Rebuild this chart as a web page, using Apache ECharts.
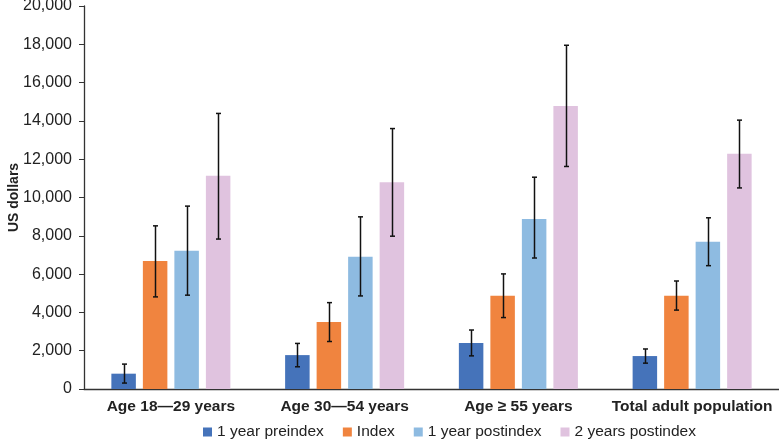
<!DOCTYPE html>
<html>
<head>
<meta charset="utf-8">
<script src="https://cdn.jsdelivr.net/npm/echarts@6/dist/echarts.min.js"></script>
<style>html,body{margin:0;padding:0;background:#fff;}#c{width:779px;height:440px;}</style>
</head>
<body>
<div id="c"></div>
<script>
const categories = ['Age 18\u201429 years', 'Age 30\u201454 years', 'Age \u2265 55 years', 'Total adult population'];
const seriesNames = ['1 year preindex', 'Index', '1 year postindex', '2 years postindex'];
const preindex = [800, 1770, 2400, 1720];
const indexVals = [6680, 3500, 4870, 4870];
const postindex1 = [7220, 6900, 8880, 7690];
const postindex2 = [11130, 10790, 14780, 12290];
const preindexErr = [[310, 1300], [1160, 2380], [1730, 3080], [1350, 2090]];
const indexErr = [[4810, 8520], [2480, 4510], [3730, 6010], [4120, 5640]];
const postindex1Err = [[4900, 9550], [4860, 8990], [6840, 11060], [6440, 8940]];
const postindex2Err = [[7830, 14390], [7980, 13600], [11620, 17950], [10500, 14040]];
const yTicks = [0, 2000, 4000, 6000, 8000, 10000, 12000, 14000, 16000, 18000, 20000];

const colors = ['#4573BA', '#F0843F', '#8EBBE1', '#E0C3DF'];
const values = [preindex, indexVals, postindex1, postindex2];
const errs = [preindexErr, indexErr, postindex1Err, postindex2Err];
const BAR_FRAC = 0.141, GAP_FRAC = 0.286;
const FONT = 'Liberation Sans, Arial, sans-serif';

const series = [];
values.forEach((v, i) => {
  series.push({
    name: seriesNames[i], type: 'bar', data: v,
    itemStyle: { color: colors[i] },
    barWidth: (BAR_FRAC * 100) + '%', barGap: (GAP_FRAC * 100) + '%',
    emphasis: { disabled: true }
  });
});
errs.forEach((e, i) => {
  series.push({
    type: 'custom', name: 'err' + i, z: 10,
    data: e.map((r, k) => [k, r[0], r[1]]),
    renderItem: function (params, api) {
      const band = api.size([1, 0])[0];
      const bw = band * BAR_FRAC;
      const off = (i - 1.5) * bw * (1 + GAP_FRAC);
      const lo = api.coord([api.value(0), api.value(1)]);
      const hi = api.coord([api.value(0), api.value(2)]);
      const x = Math.round(lo[0] + off) + 0.5;
      const cap = 2.5;
      const st = { stroke: '#111', lineWidth: 1.5 };
      return { type: 'group', children: [
        { type: 'line', shape: { x1: x, y1: lo[1], x2: x, y2: hi[1] }, style: st },
        { type: 'line', shape: { x1: x - cap, y1: lo[1], x2: x + cap, y2: lo[1] }, style: st },
        { type: 'line', shape: { x1: x - cap, y1: hi[1], x2: x + cap, y2: hi[1] }, style: st }
      ]};
    },
    encode: { x: 0, y: [1, 2] },
    silent: true
  });
});

const chart = echarts.init(document.getElementById('c'), null, { renderer: 'canvas' });
chart.setOption({
  animation: false,
  textStyle: { fontFamily: FONT },
  grid: { left: 84, right: 0, top: 6, bottom: 51, containLabel: false, outerBoundsMode: 'none' },
  legend: {
    data: seriesNames, top: 419, left: 198,
    icon: 'rect', itemWidth: 9, itemHeight: 9, itemGap: 19,
    textStyle: { fontSize: 15.5, color: '#222', fontFamily: FONT }
  },
  xAxis: {
    type: 'category', data: categories,
    axisLine: { lineStyle: { color: '#333', width: 1.3 } },
    axisTick: { show: false },
    axisLabel: { color: '#222', fontSize: 15.5, fontWeight: 'bold', margin: 10, interval: 0 }
  },
  yAxis: {
    type: 'value', min: yTicks[0], max: yTicks[yTicks.length - 1], interval: 2000,
    name: 'US dollars', nameLocation: 'middle', nameGap: 63, nameMoveOverlap: false,
    nameTextStyle: { fontSize: 14, fontWeight: 'bold', color: '#222' },
    axisLine: { show: true, lineStyle: { color: '#333', width: 1.3 } },
    axisTick: { show: true, length: 5, lineStyle: { color: '#333' } },
    splitLine: { show: false },
    axisLabel: { color: '#222', fontSize: 16, margin: 12,
      formatter: v => v.toLocaleString('en-US') }
  },
  series: series
});
</script>
</body>
</html>
